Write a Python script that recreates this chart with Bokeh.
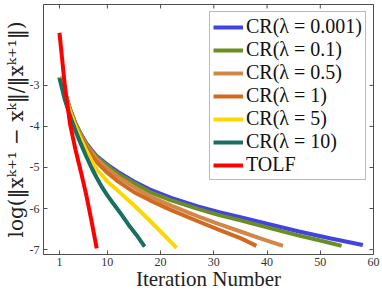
import math
from bokeh.plotting import figure
from bokeh.models import FixedTicker, Range1d, Legend, LegendItem
from bokeh.embed import file_html
from bokeh.resources import INLINE

# ---- data ----
it_001 = [1, 2, 3, 4, 5, 6, 7, 8, 10, 12, 15, 18, 22, 27, 31, 35, 40, 46, 52, 58]
cr_001 = [-2.80, -3.17, -3.58, -3.92, -4.18, -4.40, -4.57, -4.72, -4.93, -5.11, -5.34,
          -5.54, -5.74, -5.95, -6.09, -6.21, -6.37, -6.56, -6.73, -6.89]
it_01 = [1, 2, 3, 4, 5, 6, 7, 8, 10, 12, 15, 18, 22, 27, 31, 35, 40, 46, 50, 54]
cr_01 = [-2.80, -3.17, -3.59, -3.93, -4.19, -4.42, -4.59, -4.74, -4.96, -5.15, -5.38,
         -5.60, -5.80, -6.01, -6.16, -6.29, -6.46, -6.66, -6.78, -6.91]
it_05 = [1, 2, 3, 4, 5, 6, 7, 8, 10, 12, 15, 18, 22, 27, 31, 35, 39, 43]
cr_05 = [-2.80, -3.18, -3.60, -3.95, -4.22, -4.45, -4.63, -4.79, -5.03, -5.23, -5.48,
         -5.70, -5.93, -6.19, -6.38, -6.56, -6.74, -6.91]
it_1 = [1, 2, 3, 4, 5, 6, 7, 8, 10, 12, 15, 18, 22, 27, 31, 35, 38]
cr_1 = [-2.80, -3.19, -3.62, -3.98, -4.26, -4.50, -4.70, -4.87, -5.13, -5.34, -5.60,
        -5.80, -6.04, -6.31, -6.52, -6.72, -6.91]
it_5 = [1, 2, 3, 4, 5, 6, 7, 8, 10, 12, 15, 17, 20, 23]
cr_5 = [-2.80, -3.20, -3.65, -4.00, -4.30, -4.58, -4.83, -5.05, -5.34, -5.57, -5.92,
        -6.17, -6.56, -6.96]
it_10 = [1, 2, 3, 4, 5, 6, 7, 8, 9, 10, 11, 12.5, 14, 15.5, 17]
cr_10 = [-2.82, -3.35, -3.75, -4.10, -4.42, -4.72, -5.00, -5.25, -5.48, -5.68, -5.86,
         -6.12, -6.40, -6.65, -6.93]
it_tolf = [1, 2, 3, 4, 5, 6, 7, 8]
tolf = [-1.72, -3.00, -3.95, -4.56, -5.09, -5.65, -6.29, -6.97]

series_labels = ["CR(λ = 0.001)", "CR(λ = 0.1)", "CR(λ = 0.5)", "CR(λ = 1)",
                 "CR(λ = 5)", "CR(λ = 10)", "TOLF"]
series_colors = ["#4343e4", "#6b8e23", "#d2874a", "#d2691e", "#ffd700", "#1a6e62", "#ff0000"]
series_x = [it_001, it_01, it_05, it_1, it_5, it_10, it_tolf]
series_y = [cr_001, cr_01, cr_05, cr_1, cr_5, cr_10, tolf]

x_ticks = [1, 10, 20, 30, 40, 50, 60]
y_ticks = [-7, -6, -5, -4, -3]
y_tick_labels = ["-7", "-6", "-5", "-4", "-3"]
X_MIN, X_MAX = -2, 60
Y_MIN, Y_MAX = -7.12, -1.03

SERIF = "Liberation Serif"
AX = "#4d4d4d"

p = figure(width=382, height=293, x_range=Range1d(X_MIN, X_MAX), y_range=Range1d(Y_MIN, Y_MAX),
           output_backend="svg", toolbar_location=None,
           min_border_left=0, min_border_right=9, min_border_top=4, min_border_bottom=0)
p.background_fill_color = "white"
p.border_fill_color = "white"
p.outline_line_color = AX
p.grid.visible = False

renderers = []
for xs, ys, c in zip(series_x, series_y, series_colors):
    r = p.line(xs, ys, line_color=c, line_width=4)
    renderers.append(r)

# box ticks on the top and right edges (inward, clipped by the frame)
p.scatter(x_ticks, [Y_MAX] * len(x_ticks), marker="dash", size=8, angle=math.pi / 2,
          line_color=AX, line_width=1)
p.scatter([X_MAX] * len(y_ticks), y_ticks, marker="dash", size=8,
          line_color=AX, line_width=1)

for ax in (p.xaxis[0], p.yaxis[0]):
    ax.axis_line_color = AX
    ax.major_tick_line_color = AX
    ax.major_tick_in = 4
    ax.major_tick_out = 0
    ax.minor_tick_line_color = None
    ax.major_label_text_font = SERIF
    ax.major_label_text_font_size = "12px"
    ax.major_label_text_color = "#333333"
    ax.major_label_text_line_height = 1.0
    ax.axis_label_text_font_style = "normal"
    ax.axis_label_text_color = "#222222"
    ax.axis_label_text_line_height = 0.9

p.xaxis[0].ticker = FixedTicker(ticks=x_ticks)
p.yaxis[0].ticker = FixedTicker(ticks=y_ticks)
p.yaxis[0].major_label_overrides = {t: s for t, s in zip(y_ticks, y_tick_labels)}
p.xaxis[0].axis_label = "Iteration Number"
p.xaxis[0].axis_label_text_font = SERIF
p.xaxis[0].axis_label_text_font_size = "21px"
p.xaxis[0].major_label_standoff = 3
p.xaxis[0].axis_label_standoff = -2
p.yaxis[0].axis_label = "log(‖xᵏ⁺¹ − xᵏ‖/‖xᵏ⁺¹‖)"
p.yaxis[0].axis_label_text_font = "DejaVu Serif"
p.yaxis[0].axis_label_text_font_size = "20px"
p.yaxis[0].major_label_standoff = 4
p.yaxis[0].axis_label_standoff = -1

legend = Legend(items=[LegendItem(label=l, renderers=[r]) for l, r in zip(series_labels, renderers)],
                location="top_right", margin=7, padding=3, spacing=-1,
                glyph_width=30, glyph_height=20, label_height=20, label_standoff=3,
                label_text_font=SERIF, label_text_font_size="20px", label_text_color="#111111",
                border_line_color="#777777", border_line_width=1,
                background_fill_color="white", background_fill_alpha=1)
p.add_layout(legend)

open("out.html", "w").write(file_html(p, INLINE))
